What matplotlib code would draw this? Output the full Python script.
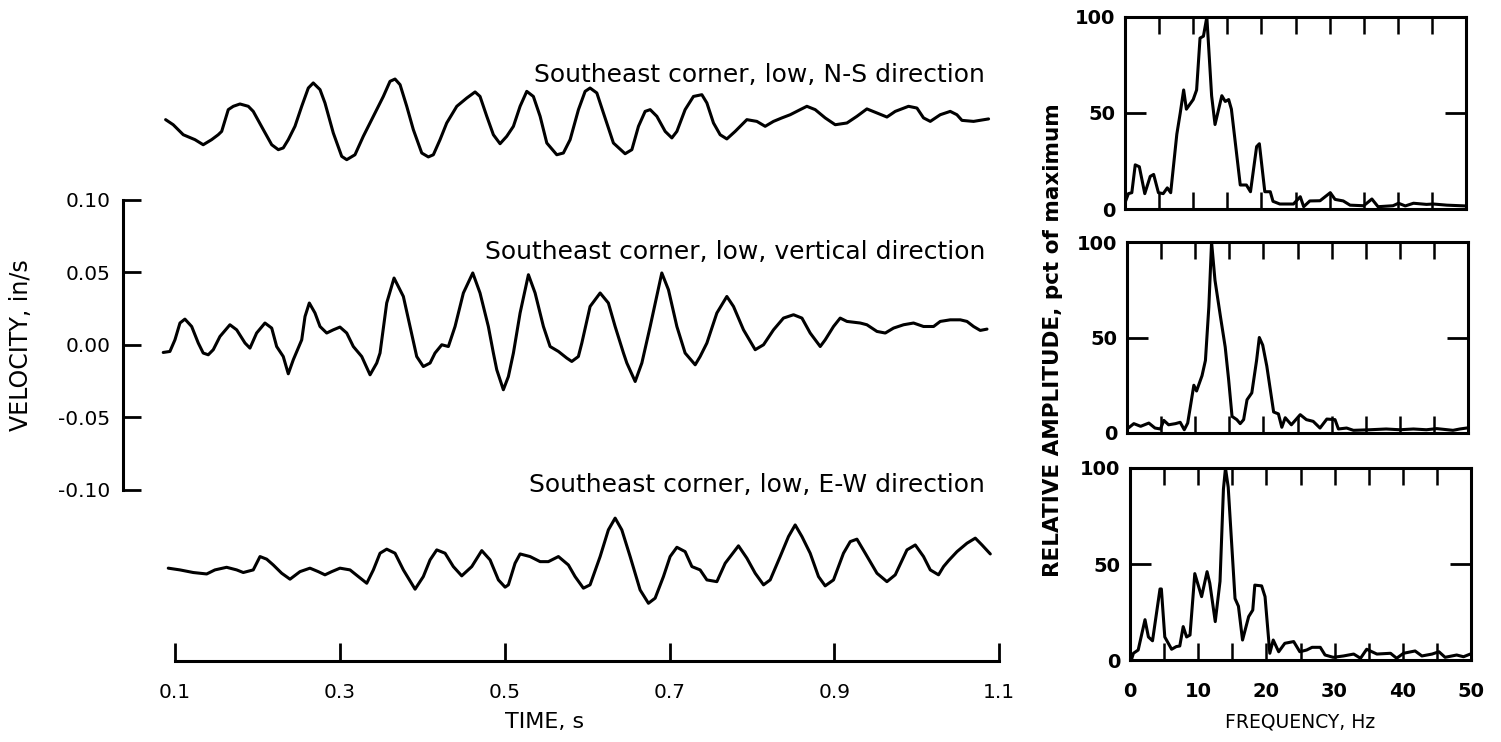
import numpy as np
import matplotlib
matplotlib.use("Agg")
import matplotlib.pyplot as plt

plt.rcParams['font.family'] = ['DejaVu Sans']

# --- velocity records: time (s), velocity about each trace baseline (0.001 in/s) ---
ns_t = [0.0887, 0.0979, 0.1101, 0.1243, 0.1343, 0.1445, 0.1525, 0.1567, 0.1647, 0.1708,
        0.1789, 0.1890, 0.1950, 0.2072, 0.2174, 0.2254, 0.2314, 0.2375, 0.2456, 0.2538,
        0.2618, 0.2678, 0.2760, 0.2820, 0.2921, 0.3023, 0.3084, 0.3184, 0.3285, 0.3407,
        0.3528, 0.3609, 0.3670, 0.3731, 0.3812, 0.3892, 0.3994, 0.4074, 0.4135, 0.4216,
        0.4297, 0.4419, 0.4540, 0.4641, 0.4701, 0.4783, 0.4863, 0.4944, 0.5025, 0.5106,
        0.5187, 0.5268, 0.5348, 0.5430, 0.5511, 0.5632, 0.5712, 0.5794, 0.5895, 0.5976,
        0.6036, 0.6118, 0.6198, 0.6319, 0.6461, 0.6543, 0.6623, 0.6704, 0.6765, 0.6846,
        0.6947, 0.7028, 0.7089, 0.7189, 0.7290, 0.7392, 0.7453, 0.7533, 0.7614, 0.7695,
        0.7796, 0.7938, 0.8059, 0.8160, 0.8261, 0.8363, 0.8464, 0.8585, 0.8666, 0.8767,
        0.8888, 0.9010, 0.9152, 0.9273, 0.9394, 0.9516, 0.9637, 0.9738, 0.9899, 1.0001,
        1.0081, 1.0163, 1.0284, 1.0405, 1.0486, 1.0547, 1.0688, 1.0870]
ns_v = [1.4, -2.1, -9.0, -12.4, -15.9, -12.4, -9.0, -6.7, 8.3, 10.6,
        12.2, 10.6, 7.1, -5.5, -15.9, -19.3, -18.1, -12.4, -3.2, 10.6,
        23.2, 26.7, 22.1, 12.9, -7.8, -23.9, -26.2, -22.8, -10.1, 3.7,
        17.4, 27.8, 29.4, 25.5, 10.6, -5.5, -21.6, -24.3, -22.8, -12.4,
        -0.9, 10.6, 16.3, 20.5, 17.4, 3.7, -9.0, -15.2, -10.1, -3.2,
        10.6, 20.9, 17.4, 3.7, -14.7, -22.8, -21.6, -12.4, 8.3, 20.9,
        23.2, 19.8, 6.0, -14.7, -22.1, -19.3, -3.2, 7.1, 8.3, 3.7,
        -6.7, -11.2, -6.7, 8.3, 17.4, 18.6, 12.9, -0.9, -9.0, -11.9,
        -6.7, 1.4, 0.2, -3.2, 0.2, 2.6, 4.8, 8.3, 10.6, 8.3,
        2.6, -2.1, -0.9, 3.7, 8.8, 6.0, 3.2, 7.1, 10.6, 9.4,
        2.6, 0.2, 4.8, 7.1, 4.8, 0.9, 0.2, 1.9]

vt_t = [0.0858, 0.0939, 0.1000, 0.1061, 0.1121, 0.1203, 0.1283, 0.1343, 0.1404, 0.1465,
        0.1546, 0.1667, 0.1749, 0.1850, 0.1910, 0.1991, 0.2092, 0.2174, 0.2234, 0.2314,
        0.2375, 0.2436, 0.2538, 0.2578, 0.2630, 0.2699, 0.2760, 0.2841, 0.2921, 0.3002,
        0.3084, 0.3164, 0.3266, 0.3367, 0.3448, 0.3488, 0.3569, 0.3658, 0.3771, 0.3852,
        0.3933, 0.4013, 0.4095, 0.4155, 0.4237, 0.4317, 0.4398, 0.4499, 0.4613, 0.4701,
        0.4802, 0.4863, 0.4904, 0.4984, 0.5045, 0.5106, 0.5187, 0.5288, 0.5369, 0.5470,
        0.5551, 0.5652, 0.5754, 0.5814, 0.5894, 0.5936, 0.6036, 0.6158, 0.6258, 0.6340,
        0.6441, 0.6482, 0.6583, 0.6664, 0.6765, 0.6906, 0.6987, 0.7089, 0.7189, 0.7311,
        0.7371, 0.7453, 0.7574, 0.7695, 0.7776, 0.7897, 0.8039, 0.8140, 0.8261, 0.8382,
        0.8504, 0.8606, 0.8706, 0.8828, 0.8888, 0.8989, 0.9070, 0.9152, 0.9313, 0.9394,
        0.9516, 0.9617, 0.9717, 0.9839, 0.9960, 1.0081, 1.0203, 1.0284, 1.0405, 1.0527,
        1.0608, 1.0688, 1.0769, 1.0851]
vt_v = [-5.3, -4.6, 3.4, 15.0, 17.7, 12.6, 1.2, -5.7, -6.9, -3.4,
        5.7, 13.8, 10.3, 1.2, -2.3, 8.1, 15.0, 11.5, -1.2, -8.1,
        -20.0, -10.3, 3.4, 19.5, 28.8, 21.9, 12.6, 8.1, 10.3, 12.2,
        8.1, -1.2, -8.1, -20.7, -12.6, -5.7, 28.8, 46.0, 33.3, 12.6,
        -8.1, -15.0, -12.6, -5.7, 0.0, -1.2, 12.6, 35.7, 49.5, 35.7,
        12.6, -5.7, -17.2, -31.0, -21.9, -5.7, 21.9, 48.3, 35.7, 12.6,
        -1.2, -4.6, -9.2, -11.5, -8.1, 1.2, 26.4, 35.7, 28.8, 12.6,
        -5.7, -12.6, -25.3, -12.6, 12.6, 49.5, 37.9, 12.6, -5.7, -13.8,
        -8.1, 1.2, 21.9, 33.3, 26.4, 10.3, -3.4, 0.0, 10.3, 18.4,
        20.7, 18.4, 8.1, -1.2, 3.4, 12.6, 18.4, 16.1, 15.0, 13.8,
        9.2, 8.1, 11.5, 13.8, 15.0, 12.6, 12.6, 16.1, 17.2, 17.2,
        16.1, 12.6, 9.9, 10.8]

ew_t = [0.0919, 0.1061, 0.1222, 0.1385, 0.1485, 0.1627, 0.1749, 0.1829, 0.1950, 0.2032,
        0.2113, 0.2193, 0.2295, 0.2396, 0.2517, 0.2638, 0.2739, 0.2820, 0.2902, 0.3002,
        0.3124, 0.3225, 0.3327, 0.3407, 0.3488, 0.3569, 0.3670, 0.3771, 0.3913, 0.4013,
        0.4095, 0.4176, 0.4277, 0.4377, 0.4479, 0.4601, 0.4722, 0.4823, 0.4924, 0.5005,
        0.5045, 0.5126, 0.5187, 0.5308, 0.5430, 0.5530, 0.5652, 0.5773, 0.5854, 0.5955,
        0.6036, 0.6158, 0.6258, 0.6340, 0.6421, 0.6522, 0.6643, 0.6744, 0.6825, 0.6926,
        0.7007, 0.7089, 0.7189, 0.7271, 0.7371, 0.7453, 0.7574, 0.7675, 0.7836, 0.7938,
        0.8039, 0.8140, 0.8221, 0.8342, 0.8443, 0.8524, 0.8606, 0.8706, 0.8807, 0.8888,
        0.8989, 0.9110, 0.9192, 0.9273, 0.9374, 0.9516, 0.9637, 0.9738, 0.9880, 0.9981,
        1.0081, 1.0163, 1.0263, 1.0324, 1.0385, 1.0487, 1.0608, 1.0709, 1.0790, 1.0891]
ew_v = [1.2, 0.0, -1.8, -2.8, 0.0, 1.8, 0.0, -1.8, 0.0, 9.2,
        7.4, 3.4, -2.3, -6.4, -1.2, 1.2, -1.2, -3.4, -1.2, 1.2,
        0.0, -4.6, -9.2, 0.0, 11.5, 14.3, 11.5, 0.0, -13.3, -4.6,
        6.9, 13.8, 11.5, 2.3, -4.1, 2.3, 13.3, 6.9, -6.9, -11.9,
        -10.3, 4.6, 11.0, 9.2, 5.7, 5.7, 9.2, 3.4, -4.6, -12.6,
        -10.3, 9.2, 27.6, 35.7, 27.6, 9.2, -13.8, -23.0, -19.5, -4.6,
        9.2, 15.6, 12.6, 2.3, 0.0, -6.9, -8.1, 4.6, 16.6, 8.1,
        -2.3, -10.3, -6.9, 9.2, 23.0, 31.0, 23.0, 11.5, -4.6, -11.0,
        -6.9, 11.5, 19.5, 21.2, 11.5, -2.3, -8.1, -3.4, 13.8, 17.2,
        9.2, 0.0, -3.4, 2.3, 6.4, 12.6, 18.4, 21.9, 17.2, 11.0]

trace_offsets = [0.1538, 0.0, -0.1552]   # in/s, vertical shift of each record
trace_labels = ["Southeast corner, low, N-S direction",
                "Southeast corner, low, vertical direction",
                "Southeast corner, low, E-W direction"]
label_y = [0.186, 0.064, -0.0966]

# --- Fourier spectra: frequency (Hz), relative amplitude (pct of maximum) ---
f1 = [0.15, 0.5, 1.0, 1.5, 2.1, 2.9, 3.7, 4.2, 4.9, 5.6, 6.2, 6.7, 7.6, 8.1, 8.6, 9.0,
      10.0, 10.5, 11.0, 11.5, 12.0, 12.7, 13.2, 14.2, 14.7, 15.2, 15.6, 16.9, 17.8, 18.4,
      19.3, 19.7, 20.5, 21.3, 21.7, 22.7, 24.7, 25.7, 26.2, 27.1, 28.6, 30.1, 30.8, 32.0,
      33.0, 35.0, 36.2, 37.1, 39.3, 40.1, 41.1, 42.3, 44.2, 45.2, 47.2, 49.9]
a1 = [4.7, 8, 8.5, 23, 22, 8, 17, 18, 8.5, 8, 11, 8.5, 39, 50, 62, 52,
      57, 62, 89, 90, 100, 59, 44, 59, 56, 57, 52, 12.5, 12.5, 9,
      32.5, 34, 9, 9, 4, 2.6, 2.6, 6.4, 1.2, 4.2, 4.3, 8.5, 5, 4.2,
      2, 1.7, 5.2, 1.2, 1.7, 3, 1.6, 3, 2.4, 2.6, 2, 1.6]

f2 = [0.2, 1.0, 2.0, 3.2, 4.1, 4.9, 5.4, 6.1, 7.1, 7.8, 8.4, 8.9, 9.8, 10.2, 11.0, 11.5,
      12.0, 12.4, 12.9, 13.7, 14.4, 14.9, 15.4, 16.1, 16.6, 17.1, 17.6, 18.3, 19.0, 19.4,
      19.9, 20.5, 21.5, 22.2, 22.7, 23.2, 24.1, 25.4, 26.3, 27.3, 28.3, 29.3, 30.5, 31.0,
      32.2, 33.2, 35.6, 38.0, 40.0, 42.0, 43.9, 45.4, 47.8, 48.8, 49.8]
a2 = [2.6, 4.9, 3.5, 5.2, 2.6, 2.1, 6.6, 4.3, 4.9, 5.6, 1.7, 5.2, 25, 22, 30, 38,
      66, 100, 80, 61, 45, 28, 8.7, 7, 4.9, 7, 17.4, 21, 38, 50,
      46, 35, 11, 10, 3, 8, 4.3, 9.6, 7, 6.1, 2.6, 7.3, 7, 2.1,
      2.6, 1.4, 1.7, 2.1, 1.7, 2.1, 1.7, 2.3, 1.4, 2.1, 2.6]

f3 = [0.2, 0.5, 1.2, 2.2, 2.7, 3.3, 4.4, 4.6, 5.1, 6.1, 6.8, 7.3, 7.8, 8.3, 8.8, 9.5,
      10.5, 11.3, 11.7, 12.5, 13.2, 13.7, 14.0, 14.4, 15.4, 15.9, 16.5, 17.4, 18.0, 18.3,
      19.3, 19.8, 20.5, 21.0, 21.8, 22.7, 24.0, 24.9, 25.9, 26.7, 27.9, 28.6, 29.8, 31.3,
      32.8, 33.8, 34.7, 36.2, 38.2, 39.1, 40.1, 41.8, 42.8, 44.3, 45.3, 46.2, 47.9, 48.9, 49.9]
a3 = [0, 3.5, 5.2, 21, 12, 10, 37, 37, 12, 5.6, 7, 7.3, 17.4, 12, 13, 45,
      33, 46, 40, 20, 41, 89, 100, 90, 32, 28, 10.4, 22.6, 26, 39,
      38.6, 33, 3.5, 10.4, 4.3, 8.7, 9.6, 4.3, 5.2, 6.6, 6.6, 2.6, 1.4, 2.1,
      3.1, 0.9, 5.6, 3.1, 3.5, 0.9, 3.5, 4.7, 2.1, 3.1, 4.3, 1.4, 2.6, 1.7, 3.1]

W, H = 1501, 742
fig = plt.figure(figsize=(W / 100, H / 100), dpi=100)

def px_box(left, top, right, bottom):
    return [left / W, 1 - bottom / H, (right - left) / W, (bottom - top) / H]

# left: velocity traces
ax = fig.add_axes(px_box(123, 30, 1010, 661))
for t, v, off in zip([ns_t, vt_t, ew_t], [ns_v, vt_v, ew_v], trace_offsets):
    ax.plot(t, np.array(v) / 1000 + off, color='black', lw=2.2,
            solid_joinstyle='round', solid_capstyle='round')
for lab, ly in zip(trace_labels, label_y):
    ax.text(1.083, ly, lab, ha='right', va='center', fontsize=18)

ax.set_xlim(0.037, 1.113)
ax.set_ylim(-0.218, 0.217)
for s in ['top', 'right']:
    ax.spines[s].set_visible(False)
ax.spines['left'].set_bounds(-0.1, 0.1)
ax.spines['bottom'].set_bounds(0.1, 1.1)
ax.spines['left'].set_linewidth(2.2)
ax.spines['bottom'].set_linewidth(2.2)
ax.set_yticks([-0.10, -0.05, 0.0, 0.05, 0.10])
ax.set_yticklabels(['-0.10', '-0.05', '0.00', '0.05', '0.10'])
ax.set_xticks([0.1, 0.3, 0.5, 0.7, 0.9, 1.1])
ax.set_xticklabels(['0.1', '0.3', '0.5', '0.7', '0.9', '1.1'])
ax.tick_params(direction='in', length=13, width=2.0, labelsize=14.5)
ax.tick_params(axis='y', pad=9)
ax.tick_params(axis='x', pad=16)
ax.set_ylabel('VELOCITY, in/s', fontsize=17, labelpad=18)
fig.text(545 / W, 1 - 722 / H, 'TIME, s', ha='center', va='center', fontsize=16)

# right: spectra
boxes = [(1125, 17, 1466, 209), (1127, 242, 1468, 433), (1130, 468, 1471, 660)]
for i, (fr, amp, box) in enumerate(zip([f1, f2, f3], [a1, a2, a3], boxes)):
    sa = fig.add_axes(px_box(*box))
    sa.plot(fr, amp, color='black', lw=2.2)
    sa.set_xlim(0, 50)
    sa.set_ylim(0, 100)
    for s in sa.spines.values():
        s.set_linewidth(2.2)
    sa.set_yticks([0, 50, 100])
    sa.set_yticklabels(['0', '50', '100'], fontweight='bold')
    sa.set_xticks(np.arange(0, 51, 5))
    sa.tick_params(axis='y', direction='in', length=15, width=2.0, left=True,
                   right=True, labelsize=14, pad=7)
    sa.tick_params(axis='x', direction='in', length=12, width=1.8, top=True,
                   bottom=True, labelsize=14, pad=16)
    if i < 2:
        sa.set_xticklabels([])
    else:
        sa.set_xticklabels(['0', '', '10', '', '20', '', '30', '', '40', '', '50'],
                           fontweight='bold')

fig.text(1053 / W, 1 - 340 / H, 'RELATIVE AMPLITUDE, pct of maximum', rotation=90,
         ha='center', va='center', fontsize=15.5, fontweight='bold')
fig.text(1300 / W, 1 - 722 / H, 'FREQUENCY, Hz', ha='center', va='center', fontsize=13.5)

fig.savefig('out.png', dpi=100)
